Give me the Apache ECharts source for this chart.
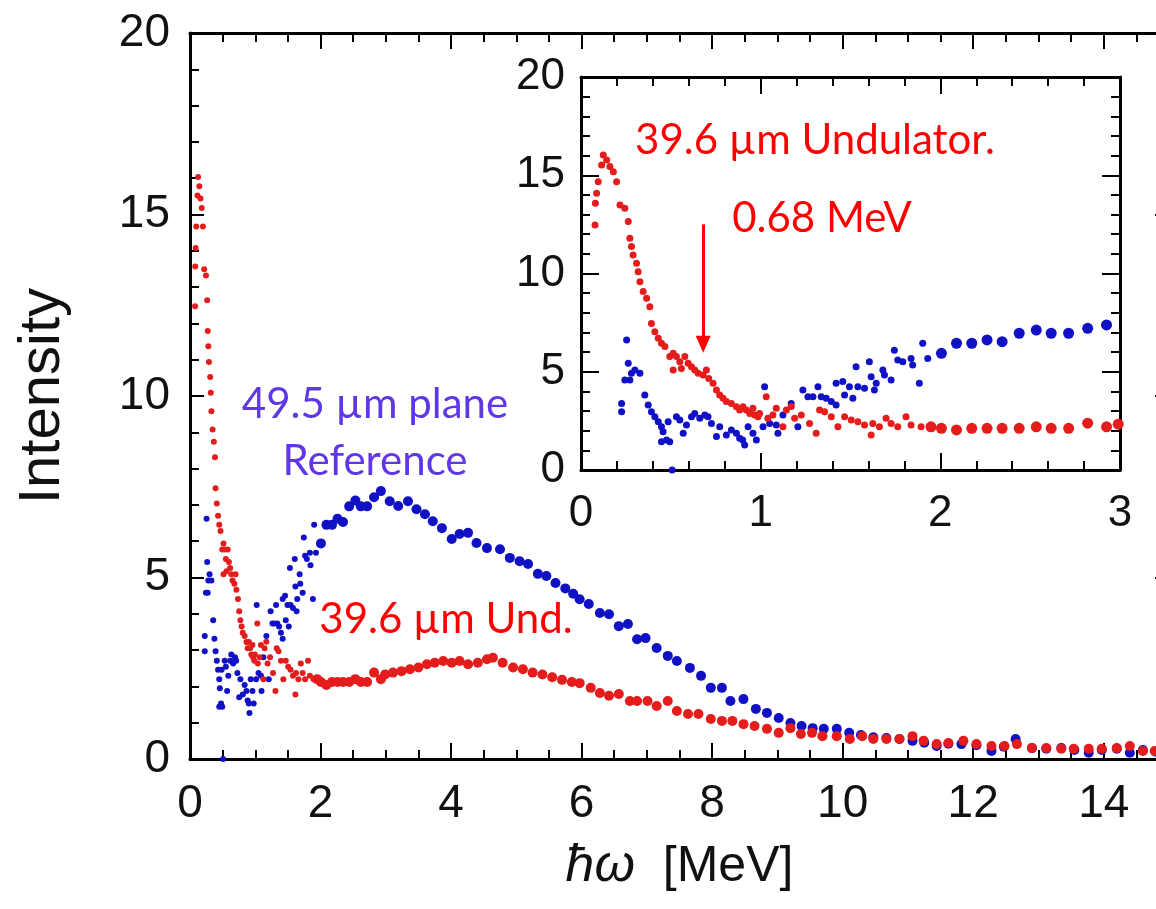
<!DOCTYPE html>
<html>
<head>
<meta charset="utf-8">
<script src="https://cdn.jsdelivr.net/npm/echarts@6/dist/echarts.min.js"></script>
<style>
  html, body { margin: 0; padding: 0; background: #fff; }
  #chart { width: 1156px; height: 909px; }
</style>
</head>
<body>
<div id="chart"></div>
<script>
// Photon energy (MeV) vs intensity, [x, y] pairs.
// Fine-binned low-energy data (small dots) and coarse-binned data (large dots).

// 49.5 um plane crystal (reference), fine bins
const refFine = [
  [0.226,3.39],[0.226,2.97],[0.244,4.58],[0.254,6.62],[0.263,5.43],[0.272,4.58],[0.281,4.92],
  [0.300,5.09],[0.328,4.92],[0.355,3.82],[0.374,3.31],[0.392,2.97],[0.411,2.71],[0.430,2.46],
  [0.448,2.20],[0.448,1.44],[0.457,1.95],[0.476,1.53],[0.485,2.46],[0.494,1.44],[0.507,0.00],
  [0.531,2.71],[0.550,2.54],[0.569,1.87],[0.587,2.29],[0.615,2.71],[0.633,2.88],[0.661,2.63],
  [0.689,2.80],[0.707,2.71],[0.726,2.37],[0.754,1.70],[0.772,2.20],[0.809,1.78],[0.837,2.04],
  [0.865,1.87],[0.883,1.61],[0.900,1.53],[0.911,1.27],[0.930,2.20],[0.957,1.87],[0.976,1.53],
  [1.013,2.20],[1.022,4.24],[1.050,2.37],[1.087,2.29],[1.096,1.87],[1.124,2.80],[1.170,3.39],
  [1.207,2.20],[1.235,4.07],[1.263,3.73],[1.291,3.73],[1.319,4.24],[1.337,3.73],[1.365,3.65],
  [1.393,3.48],[1.420,3.31],[1.420,4.41],[1.457,4.50],[1.467,3.82],[1.494,4.24],[1.513,3.65],
  [1.531,5.26],[1.541,4.24],[1.578,4.16],[1.605,5.51],[1.615,4.75],[1.633,4.07],[1.643,4.41],
  [1.680,5.09],[1.689,4.83],[1.726,4.58],[1.744,6.10],[1.763,5.60],[1.791,5.51],[1.837,5.68],
  [1.846,5.34],[1.883,4.41],[1.902,6.45],[1.930,5.68]
];

// 49.5 um plane crystal (reference), coarse bins
const refCoarse = [
  [2.006,5.94],[2.090,6.45],[2.175,6.45],[2.260,6.62],[2.344,6.53],[2.439,6.96],[2.534,7.12],
  [2.617,6.96],[2.714,6.96],[2.820,7.21],[2.925,7.38],[3.06,7.10],[3.19,6.97],[3.34,7.10],
  [3.47,6.88],[3.60,6.74],[3.72,6.55],[3.86,6.36],[4.01,6.06],[4.13,6.20],[4.26,6.23],
  [4.39,5.95],[4.55,5.81],[4.75,5.78],[4.90,5.54],[5.05,5.45],[5.18,5.37],[5.33,5.10],
  [5.46,5.04],[5.60,4.85],[5.75,4.70],[5.87,4.55],[5.97,4.40],[6.11,4.27],[6.28,4.02],
  [6.42,3.99],[6.57,3.66],[6.71,3.72],[6.85,3.30],[6.98,3.33],[7.15,3.06],[7.32,2.84],
  [7.46,2.70],[7.66,2.51],[7.83,2.29],[7.98,1.96],[8.15,1.96],[8.28,1.60],[8.48,1.65],
  [8.67,1.38],[8.84,1.27],[9.02,1.13],[9.20,0.99],[9.37,0.91],[9.54,0.85],[9.71,0.83],
  [9.91,0.83],[10.10,0.72],[10.28,0.66],[10.47,0.60],[10.67,0.58],[10.87,0.55],[11.07,0.50],
  [11.25,0.45],[11.44,0.36],[11.62,0.42],[11.82,0.41],[12.05,0.38],[12.28,0.22],[12.47,0.34],
  [12.65,0.55],[12.90,0.30],[13.12,0.28],[13.35,0.30],[13.55,0.25],[13.77,0.17],[13.97,0.25],
  [14.20,0.28],[14.40,0.17],[14.60,0.25],[14.80,0.20]
];

// 39.6 um undulator crystal, fine bins
const undFine = [
  [0.078,12.47],[0.080,13.57],[0.087,14.08],[0.096,14.67],[0.115,15.52],[0.124,16.03],[0.143,15.78],
  [0.161,15.44],[0.180,15.18],[0.198,14.67],[0.217,13.49],[0.244,13.32],[0.263,12.64],[0.272,11.79],
  [0.281,11.37],[0.290,10.94],[0.309,10.52],[0.318,10.09],[0.328,9.58],[0.346,9.08],[0.365,8.74],
  [0.383,8.31],[0.392,7.46],[0.411,7.04],[0.430,6.70],[0.448,6.45],[0.467,6.28],[0.494,5.77],
  [0.513,5.94],[0.513,5.09],[0.531,5.77],[0.550,5.51],[0.559,5.17],[0.578,5.77],[0.596,5.43],
  [0.615,5.26],[0.633,5.09],[0.652,4.92],[0.680,4.83],[0.698,5.09],[0.711,4.66],[0.735,4.41],
  [0.754,4.07],[0.772,3.82],[0.791,3.65],[0.809,3.48],[0.837,3.39],[0.865,3.22],[0.883,3.05],
  [0.902,3.22],[0.920,3.05],[0.939,2.88],[0.957,3.14],[0.967,2.80],[0.985,2.71],[0.994,2.88],
  [1.031,3.73],[1.040,2.63],[1.068,2.80],[1.087,3.14],[1.124,2.20],[1.143,3.05],[1.170,3.23],
  [1.189,2.63],[1.226,2.80],[1.272,2.37],[1.309,1.87],[1.328,3.05],[1.356,2.97],[1.393,2.71],
  [1.430,2.20],[1.467,2.71],[1.504,2.54],[1.541,2.46],[1.578,2.29],[1.615,1.78],[1.624,2.37],
  [1.661,2.20],[1.698,2.63],[1.726,2.37],[1.763,2.20],[1.809,2.71],[1.837,2.29],[1.893,2.20]
];

// 39.6 um undulator crystal, coarse bins
const undCoarse = [
  [1.948,2.20],[2.006,2.12],[2.090,2.04],[2.175,2.12],[2.260,2.12],[2.344,2.12],[2.439,2.12],
  [2.534,2.20],[2.617,2.12],[2.714,2.12],[2.820,2.38],[2.925,2.20],[2.99,2.33],[3.11,2.38],
  [3.24,2.42],[3.37,2.47],[3.50,2.52],[3.63,2.61],[3.75,2.65],[3.88,2.70],[4.01,2.65],
  [4.13,2.70],[4.26,2.61],[4.41,2.65],[4.55,2.75],[4.64,2.79],[4.79,2.65],[4.95,2.52],
  [5.10,2.47],[5.25,2.38],[5.40,2.33],[5.55,2.25],[5.70,2.18],[5.85,2.12],[5.97,2.09],
  [6.14,1.96],[6.28,1.82],[6.42,1.74],[6.57,1.79],[6.74,1.60],[6.85,1.60],[7.01,1.60],
  [7.15,1.46],[7.32,1.60],[7.46,1.32],[7.63,1.24],[7.79,1.24],[7.98,1.10],[8.15,1.05],
  [8.31,1.05],[8.48,0.96],[8.65,0.91],[8.84,0.83],[9.02,0.72],[9.20,0.85],[9.36,0.69],
  [9.53,0.72],[9.69,0.63],[9.91,0.63],[10.11,0.55],[10.30,0.63],[10.47,0.55],[10.67,0.55],
  [10.87,0.55],[11.07,0.63],[11.24,0.50],[11.44,0.41],[11.62,0.44],[11.85,0.50],[12.05,0.41],
  [12.28,0.36],[12.48,0.36],[12.67,0.41],[12.90,0.30],[13.12,0.30],[13.35,0.28],[13.54,0.28],
  [13.77,0.28],[13.97,0.28],[14.20,0.30],[14.40,0.36],[14.60,0.22],[14.78,0.22]
];

// Arrow marking the 0.68 MeV feature in the inset
const markerEnergy = 0.68;
const markerSpan = [12.5, 6.4];

const BLUE = '#1010c4';
const RED = '#e41c1c';
const AXIS_FONT = '"Liberation Sans", Arial, sans-serif';
const NOTE_FONT = 'Lato, "Open Sans", sans-serif';

function frameAxis(extra) {
  return Object.assign({
    type: 'value',
    axisLine: { show: true, onZero: false, lineStyle: { color: '#000', width: 3 } },
    splitLine: { show: false },
    axisTick: { show: true, inside: true, length: 16, lineStyle: { color: '#000', width: 2 } },
    minorTick: { show: true, length: 9, lineStyle: { color: '#000', width: 2 } },
    axisLabel: { show: false }
  }, extra);
}

function note(text, cx, cy, color) {
  return {
    type: 'text', x: cx, y: cy, z: 10,
    style: { text: text, align: 'center', verticalAlign: 'middle', fill: color, font: '42px ' + NOTE_FONT }
  };
}

function dots(xi, data, size, color, z) {
  return {
    type: 'scatter', xAxisIndex: xi, yAxisIndex: xi, data: data, symbolSize: size,
    itemStyle: { color: color, opacity: 1 }, z: z
  };
}

const chart = echarts.init(document.getElementById('chart'), null, { renderer: 'canvas' });

const insetArrow = dots(2, undCoarse, 11, RED, 5);
insetArrow.markLine = {
  silent: true,
  symbol: ['none', 'triangle'],
  symbolSize: [15, 17],
  label: { show: false },
  lineStyle: { color: '#ff0000', width: 3, type: 'solid', opacity: 1 },
  data: [[{ coord: [markerEnergy, markerSpan[0]] }, { coord: [markerEnergy, markerSpan[1]] }]]
};

chart.setOption({
  animation: false,
  backgroundColor: '#fff',
  grid: [
    // the main frame runs on past the right edge of the canvas
    { left: 190, right: -13, top: 33, bottom: 150, containLabel: false, outerBoundsMode: 'none' },
    { left: 581, right: 36, top: 77, bottom: 439, containLabel: false, outerBoundsMode: 'none',
      show: true, backgroundColor: '#fff', borderWidth: 0 }
  ],
  xAxis: [
    frameAxis({
      gridIndex: 0, position: 'bottom', min: 0, max: 15, interval: 2,
      minorTick: { show: true, splitNumber: 4, length: 9, lineStyle: { color: '#000', width: 2 } },
      axisLabel: { show: true, showMaxLabel: false, margin: 22, fontSize: 46, color: '#111', fontFamily: AXIS_FONT },
      name: '{i|ħω}  [MeV]', nameLocation: 'middle', nameGap: 82,
      nameTextStyle: {
        fontSize: 50, color: '#111', fontFamily: AXIS_FONT,
        rich: { i: { fontSize: 52, fontStyle: 'italic', color: '#111', fontFamily: AXIS_FONT } }
      }
    }),
    frameAxis({
      gridIndex: 0, position: 'top', min: 0, max: 15, interval: 2,
      minorTick: { show: true, splitNumber: 4, length: 9, lineStyle: { color: '#000', width: 2 } }
    }),
    frameAxis({
      gridIndex: 1, position: 'bottom', min: 0, max: 3, interval: 1,
      axisTick: { show: true, inside: true, length: 17, lineStyle: { color: '#000', width: 2 } },
      minorTick: { show: true, splitNumber: 5, length: 9, lineStyle: { color: '#000', width: 2 } },
      axisLabel: { show: true, margin: 22, fontSize: 44, color: '#111', fontFamily: AXIS_FONT }
    }),
    frameAxis({
      gridIndex: 1, position: 'top', min: 0, max: 3, interval: 1,
      axisTick: { show: true, inside: true, length: 17, lineStyle: { color: '#000', width: 2 } },
      minorTick: { show: true, splitNumber: 5, length: 9, lineStyle: { color: '#000', width: 2 } }
    })
  ],
  yAxis: [
    frameAxis({
      gridIndex: 0, position: 'left', min: 0, max: 20, interval: 5,
      axisTick: { show: true, inside: true, length: 14, lineStyle: { color: '#000', width: 2 } },
      minorTick: { show: true, splitNumber: 5, length: 9, lineStyle: { color: '#000', width: 2 } },
      axisLabel: { show: true, margin: 20, fontSize: 46, color: '#111', fontFamily: AXIS_FONT },
      name: 'Intensity', nameLocation: 'middle', nameGap: 118,
      nameTextStyle: { fontSize: 58, color: '#111', fontFamily: AXIS_FONT }
    }),
    frameAxis({
      gridIndex: 0, position: 'right', min: 0, max: 20, interval: 5,
      axisTick: { show: true, inside: true, length: 14, lineStyle: { color: '#000', width: 2 } },
      minorTick: { show: true, splitNumber: 5, length: 9, lineStyle: { color: '#000', width: 2 } }
    }),
    frameAxis({
      gridIndex: 1, position: 'left', min: 0, max: 20, interval: 5,
      axisTick: { show: true, inside: true, length: 18, lineStyle: { color: '#000', width: 2 } },
      minorTick: { show: true, splitNumber: 5, length: 9, lineStyle: { color: '#000', width: 2 } },
      axisLabel: { show: true, margin: 16, fontSize: 44, color: '#111', fontFamily: AXIS_FONT }
    }),
    frameAxis({
      gridIndex: 1, position: 'right', min: 0, max: 20, interval: 5,
      axisTick: { show: true, inside: true, length: 18, lineStyle: { color: '#000', width: 2 } },
      minorTick: { show: true, splitNumber: 5, length: 9, lineStyle: { color: '#000', width: 2 } }
    })
  ],
  series: [
    // main panel
    dots(0, refFine, 6, BLUE, 2),
    dots(0, refCoarse, 10, BLUE, 2),
    dots(0, undFine, 6, RED, 3),
    dots(0, undCoarse, 10, RED, 3),
    // inset panel
    dots(2, refFine, 7, BLUE, 4),
    dots(2, refCoarse, 11, BLUE, 4),
    dots(2, undFine, 7, RED, 5),
    insetArrow
  ],
  graphic: [
    note('49.5 µm plane', 375, 404, '#5f37e6'),
    note('Reference', 375, 461, '#5f37e6'),
    note('39.6 µm Und.', 446, 619, '#ff0000'),
    note('39.6 µm Undulator.', 815, 140, '#ff0000'),
    note('0.68 MeV', 822, 218, '#ff0000')
  ]
});
</script>
</body>
</html>
